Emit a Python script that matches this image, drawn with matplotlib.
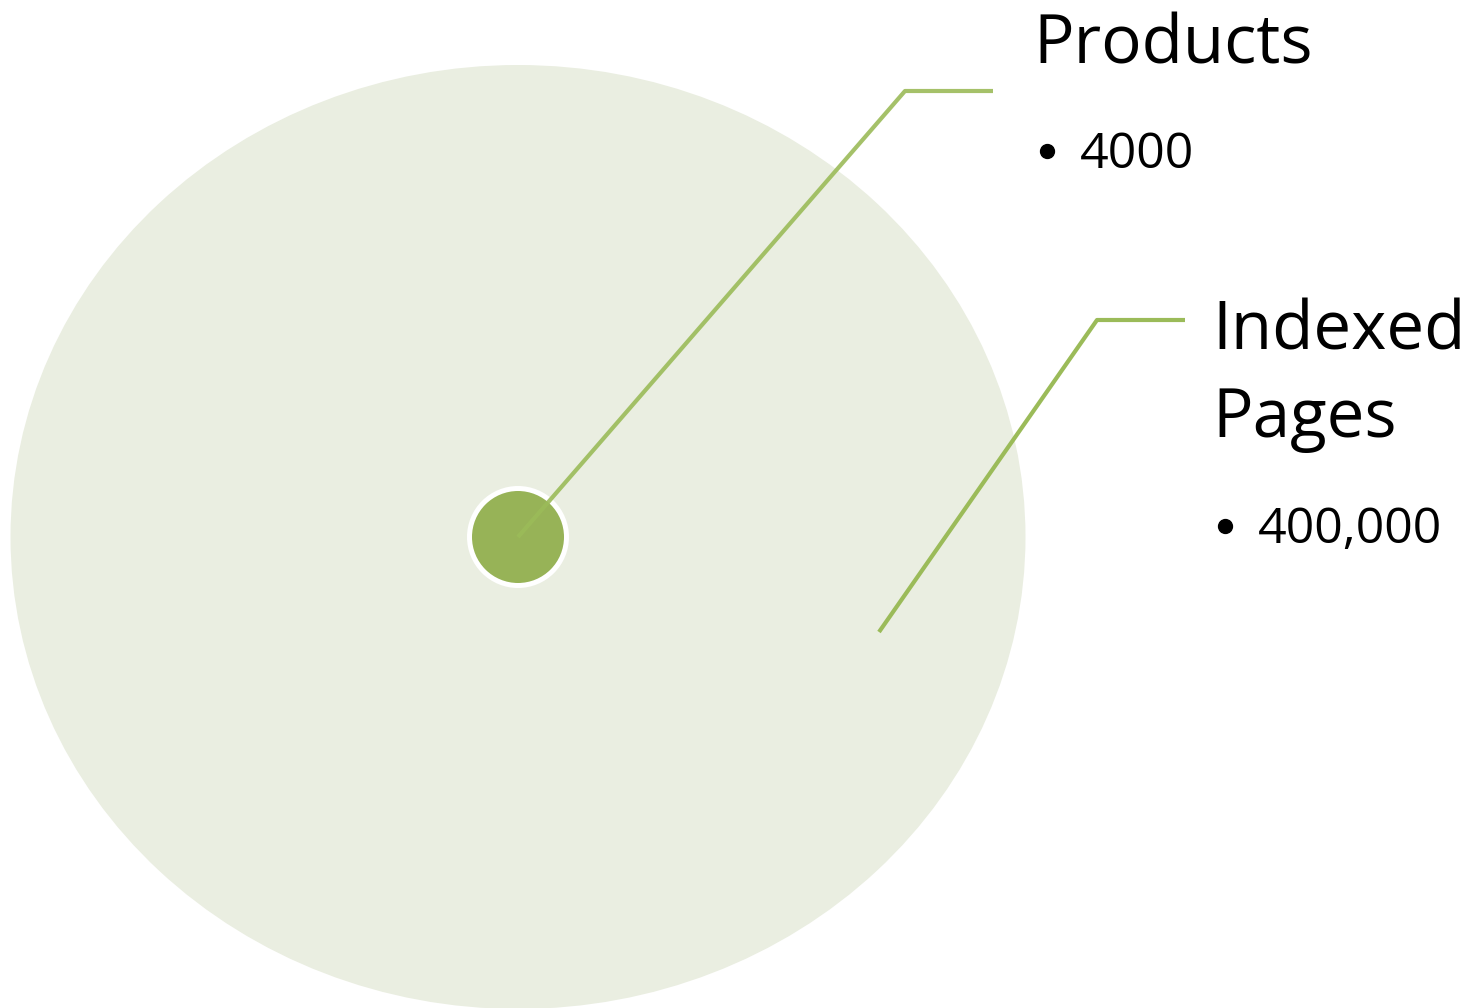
import matplotlib.pyplot as plt
from matplotlib.patches import Ellipse, Circle

# labels and values shown in the diagram
titles = ["Products", "Indexed\nPages"]
values = ["4000", "400,000"]

plt.rcParams['font.family'] = ['Open Sans', 'DejaVu Sans']

fig = plt.figure(figsize=(14.8, 10.08), dpi=100)
ax = fig.add_axes([0, 0, 1, 1])
ax.set_xlim(0, 1480)
ax.set_ylim(1008, 0)
ax.axis('off')

# outer ellipse (indexed pages) and inner circle (products)
ax.add_patch(Ellipse((518, 537), 1015, 944, facecolor='#EAEEE1', edgecolor='none'))
ax.add_patch(Circle((518, 537), 51, facecolor='white', edgecolor='none'))
ax.add_patch(Circle((518, 537), 46, facecolor='#97B357', edgecolor='none'))

line_col = '#9BBB59'
ax.plot([518, 905, 993], [537, 91, 91], color=line_col, lw=3, solid_capstyle='butt', alpha=0.9)
ax.plot([879, 1097, 1185], [632, 320, 320], color=line_col, lw=3, solid_capstyle='butt')

# text blocks
ax.text(1033, 63, titles[0], fontsize=48.5, va='baseline', ha='left')
ax.plot([1047], [151], 'o', color='black', ms=10)
ax.text(1080, 168, values[0], fontsize=36, va='baseline', ha='left')

ax.text(1212, 350, "Indexed", fontsize=48.5, va='baseline', ha='left')
ax.text(1212, 437, "Pages", fontsize=48.5, va='baseline', ha='left')
ax.plot([1225], [526], 'o', color='black', ms=10)
ax.text(1258, 543, values[1], fontsize=36, va='baseline', ha='left')

plt.savefig("out.png", dpi=100)
